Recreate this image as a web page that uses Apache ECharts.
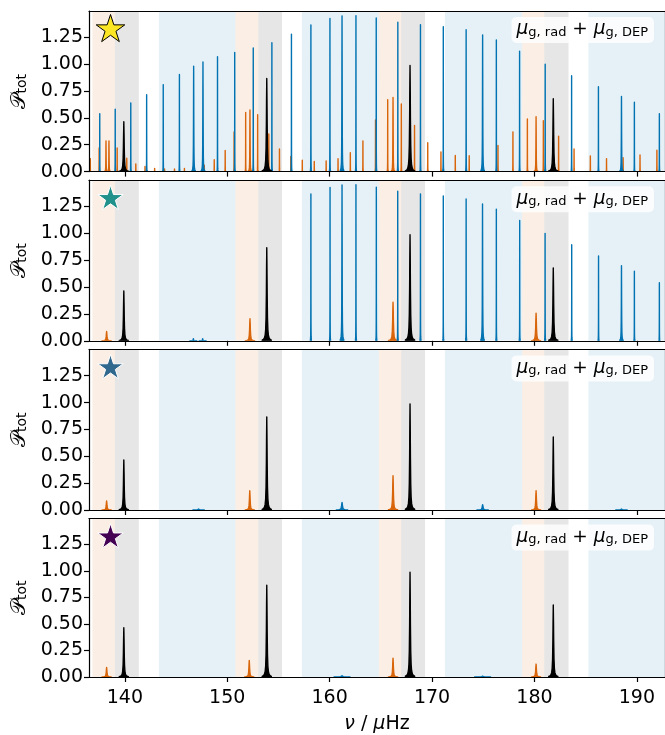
<!DOCTYPE html>
<html>
<head>
<meta charset="utf-8">
<script src="https://cdn.jsdelivr.net/npm/echarts@6/dist/echarts.min.js"></script>
<style>
  html, body { margin: 0; padding: 0; background: #ffffff; }
  #chart { width: 665px; height: 735px; }
</style>
</head>
<body>
<div id="chart"></div>
<script>
// Frequency window and axis ticks (μHz)
const freqRange = [136.5, 192.75];
const xTicks = [140, 150, 160, 170, 180, 190];
const yTicks = [0, 0.25, 0.5, 0.75, 1.0, 1.25];
const yTop = 1.495;

// Expected regions of the degree-2, radial and dipole modes
const l2Bands = [[136.83, 139.03], [150.80, 153.03], [164.80, 166.99], [178.80, 180.96]];
const l0Bands = [[139.03, 141.36], [153.03, 155.35], [166.99, 169.32], [180.96, 183.33]];
const l1Bands = [[143.33, 150.80], [157.29, 164.80], [171.26, 178.80], [185.27, 194.00]];

// Modes as [frequency, height, half width at half maximum]
const radialModes = [
  [139.90, 0.465, 0.04], [153.86, 0.867, 0.04], [167.85, 0.988, 0.04], [181.84, 0.679, 0.04]
];

// Star 1
const dipoleA = [
  [137.55, 0.54, 0.004], [139.06, 0.58, 0.004], [140.58, 0.64, 0.004], [142.13, 0.715, 0.004],
  [143.75, 0.81, 0.004], [145.33, 0.905, 0.004], [146.72, 0.98, 0.015], [147.63, 1.02, 0.015],
  [149.05, 1.07, 0.004], [150.73, 1.11, 0.004], [152.54, 1.15, 0.004], [154.36, 1.20, 0.004],
  [156.27, 1.28, 0.004], [158.17, 1.366, 0.004], [160.03, 1.425, 0.004], [161.21, 1.45, 0.015],
  [162.57, 1.452, 0.004], [164.55, 1.43, 0.004], [166.66, 1.39, 0.004], [168.87, 1.367, 0.004],
  [171.10, 1.348, 0.004], [173.33, 1.32, 0.004], [174.94, 1.273, 0.015], [176.28, 1.226, 0.004],
  [178.55, 1.12, 0.004], [181.05, 1.00, 0.004], [183.63, 0.893, 0.004], [186.25, 0.79, 0.004],
  [188.50, 0.70, 0.015], [189.76, 0.647, 0.004], [192.20, 0.54, 0.004]
];
const quadA = [
  [136.63, 0.12, 0.004], [137.49, 0.22, 0.004], [138.16, 0.286, 0.012], [138.45, 0.286, 0.012],
  [139.25, 0.22, 0.004], [140.19, 0.125, 0.004], [141.07, 0.072, 0.004], [141.97, 0.047, 0.004],
  [142.91, 0.03, 0.004], [143.88, 0.025, 0.004], [144.85, 0.025, 0.004], [145.82, 0.03, 0.004],
  [146.66, 0.035, 0.004], [147.76, 0.06, 0.004], [148.73, 0.11, 0.004], [149.80, 0.196, 0.004],
  [150.67, 0.37, 0.004], [151.80, 0.55, 0.004], [152.22, 0.573, 0.015], [152.97, 0.53, 0.004],
  [154.06, 0.35, 0.004], [155.10, 0.21, 0.004], [156.21, 0.14, 0.004], [157.33, 0.105, 0.004],
  [158.50, 0.095, 0.004], [159.66, 0.10, 0.004], [160.82, 0.12, 0.004], [162.02, 0.175, 0.004],
  [163.25, 0.286, 0.004], [164.48, 0.48, 0.004], [165.67, 0.67, 0.004], [166.19, 0.69, 0.015],
  [167.00, 0.63, 0.004], [168.29, 0.43, 0.004], [169.58, 0.268, 0.004], [170.87, 0.184, 0.004],
  [172.27, 0.15, 0.004], [173.63, 0.147, 0.004], [176.44, 0.243, 0.004], [177.90, 0.37, 0.004],
  [179.31, 0.49, 0.004], [180.16, 0.51, 0.015], [180.87, 0.473, 0.004], [182.36, 0.33, 0.004],
  [183.87, 0.21, 0.004], [185.46, 0.146, 0.004], [187.04, 0.121, 0.004], [188.66, 0.13, 0.004],
  [190.31, 0.156, 0.004], [191.96, 0.20, 0.004]
];

// Star 2
const dipoleB = [
  [146.69, 0.02, 0.03], [147.60, 0.02, 0.03],
  [158.17, 1.366, 0.004], [160.04, 1.427, 0.004], [161.21, 1.45, 0.015], [162.57, 1.452, 0.004],
  [164.56, 1.43, 0.004], [166.65, 1.392, 0.004], [168.87, 1.368, 0.004], [171.10, 1.349, 0.004],
  [173.33, 1.32, 0.004], [174.93, 1.274, 0.015], [176.28, 1.226, 0.004], [178.56, 1.12, 0.004],
  [181.04, 1.00, 0.004], [183.64, 0.894, 0.004], [186.26, 0.79, 0.004], [188.50, 0.70, 0.015],
  [189.76, 0.648, 0.004], [192.20, 0.54, 0.004]
];
const quadB = [[138.22, 0.087, 0.04], [152.22, 0.205, 0.04], [166.19, 0.36, 0.04], [180.16, 0.258, 0.04]];

// Star 3
const dipoleC = [[147.20, 0.01, 0.05], [161.21, 0.07, 0.05], [174.94, 0.05, 0.05], [188.50, 0.01, 0.05]];
const quadC = [[138.22, 0.085, 0.04], [152.20, 0.18, 0.04], [166.19, 0.32, 0.04], [180.16, 0.18, 0.04]];

// Star 4
const dipoleD = [[161.21, 0.012, 0.07], [174.94, 0.008, 0.07]];
const quadD = [[138.22, 0.09, 0.04], [152.15, 0.157, 0.04], [166.19, 0.178, 0.04], [180.16, 0.122, 0.04]];

const panels = [
  { dipole: dipoleA, quad: quadA, star: '#fde725', starEdge: '#000000', starR: 15 },
  { dipole: dipoleB, quad: quadB, star: '#21918c', starEdge: '#ffffff', starR: 13.4 },
  { dipole: dipoleC, quad: quadC, star: '#31688e', starEdge: '#ffffff', starR: 13.4 },
  { dipole: dipoleD, quad: quadD, star: '#440154', starEdge: '#ffffff', starR: 13.4 }
];

const legendText = '{m|μ}{s|g, rad}{o| + }{m|μ}{s|g, DEP}';

// ---- styling / layout ----
const FONT = 'DejaVu Sans';
const COL_L0 = '#000000';
const COL_L1 = '#0173b2';
const COL_L2 = '#d9650b';
const BAND_L0 = 'rgba(128,128,128,0.20)';
const BAND_L1 = 'rgba(1,115,178,0.10)';
const BAND_L2 = 'rgba(222,120,40,0.12)';

const gridLeft = 89, gridWidth = 580, gridHeight = 160.6;
const gridTops = [11, 180.2, 349.4, 518.6];

// Lorentzian outline of one peak, traced from the base up to the apex
const fractions = [0.008, 0.015, 0.03, 0.06, 0.12, 0.25, 0.5, 0.75, 1];
function peakRenderer(color) {
  return function (params, api) {
    const f = api.value(0), h = api.value(1), w = api.value(2);
    const left = [], right = [];
    const d0 = w * Math.sqrt(1 / fractions[0] - 1);
    left.push(api.coord([f - d0, 0]));
    for (const fr of fractions) {
      const d = w * Math.sqrt(1 / fr - 1);
      left.push(api.coord([f - d, h * fr]));
      right.unshift(api.coord([f + d, h * fr]));
    }
    right.push(api.coord([f + d0, 0]));
    return {
      type: 'polygon',
      shape: { points: left.concat(right) },
      style: { fill: color, stroke: color, lineWidth: 1.4, lineJoin: 'round' }
    };
  };
}

function bandRenderer(color) {
  return function (params, api) {
    const cs = params.coordSys;
    const x0 = api.coord([api.value(0), 0])[0];
    const x1 = api.coord([api.value(1), 0])[0];
    return {
      type: 'rect',
      shape: { x: x0, y: cs.y, width: x1 - x0, height: cs.height },
      style: { fill: color }
    };
  };
}

function starPoints(cx, cy, R) {
  const r = R * 0.381966;
  const pts = [];
  for (let k = 0; k < 10; k++) {
    const a = -Math.PI / 2 + k * Math.PI / 5;
    const rr = k % 2 === 0 ? R : r;
    pts.push([cx + rr * Math.cos(a), cy + rr * Math.sin(a)]);
  }
  return pts;
}

const textBase = { fontFamily: FONT, fontWeight: 'normal', color: '#000' };
const grid = [], xAxis = [], yAxis = [], series = [], title = [], graphic = [];
panels.forEach((p, i) => {
  const last = i === panels.length - 1;
  grid.push({ left: gridLeft, top: gridTops[i], width: gridWidth, height: gridHeight, containLabel: false });
  // bottom axis
  xAxis.push({
    type: 'value', gridIndex: i, min: freqRange[0], max: freqRange[1], z: 10,
    axisLine: { show: true, onZero: false, lineStyle: { color: '#000', width: 1.2 } },
    axisTick: { show: true, length: 5, customValues: xTicks, lineStyle: { color: '#000', width: 1.2 } },
    axisLabel: Object.assign({ show: last, customValues: xTicks, fontSize: 19, margin: 12 }, textBase),
    splitLine: { show: false },
    name: last ? '{i|ν} / {i|μ}Hz' : '',
    nameLocation: 'middle', nameGap: 38,
    nameTextStyle: Object.assign({ fontSize: 19, rich: { i: Object.assign({ fontStyle: 'italic', fontSize: 19 }, textBase) } }, textBase)
  });
  // top frame
  xAxis.push({
    type: 'value', gridIndex: i, position: 'top', min: freqRange[0], max: freqRange[1], z: 10,
    axisLine: { show: true, onZero: false, lineStyle: { color: '#000', width: 1.2 } },
    axisTick: { show: false }, axisLabel: { show: false }, splitLine: { show: false }
  });
  yAxis.push({
    type: 'value', gridIndex: i, min: 0, max: yTop, z: 10,
    axisLine: { show: true, onZero: false, lineStyle: { color: '#000', width: 1.2 } },
    axisTick: { show: true, length: 5, customValues: yTicks, lineStyle: { color: '#000', width: 1.2 } },
    axisLabel: Object.assign({ show: true, customValues: yTicks, fontSize: 19, margin: 6,
      formatter: v => v.toFixed(2) }, textBase),
    splitLine: { show: false },
    name: '{p|𝒫}{s|tot}', nameLocation: 'middle', nameGap: 59, nameRotate: 90,
    nameTextStyle: { rich: {
      p: Object.assign({ fontSize: 21, verticalAlign: 'bottom', lineHeight: 24 }, textBase),
      s: Object.assign({ fontSize: 14, verticalAlign: 'bottom', lineHeight: 15 }, textBase)
    } }
  });
  yAxis.push({
    type: 'value', gridIndex: i, position: 'right', min: 0, max: yTop, z: 10,
    axisLine: { show: true, onZero: false, lineStyle: { color: '#000', width: 1.2 } },
    axisTick: { show: false }, axisLabel: { show: false }, splitLine: { show: false }
  });

  const xi = 2 * i, yi = 2 * i;
  const bandSets = [[l2Bands, BAND_L2], [l0Bands, BAND_L0], [l1Bands, BAND_L1]];
  bandSets.forEach(([bands, col]) => {
    series.push({ type: 'custom', xAxisIndex: xi, yAxisIndex: yi, z: 1, clip: true, silent: true,
      renderItem: bandRenderer(col), data: bands });
  });
  series.push({ type: 'custom', xAxisIndex: xi, yAxisIndex: yi, z: 2, clip: true, silent: true,
    renderItem: peakRenderer(COL_L2), data: p.quad });
  series.push({ type: 'custom', xAxisIndex: xi, yAxisIndex: yi, z: 3, clip: true, silent: true,
    renderItem: peakRenderer(COL_L1), data: p.dipole });
  series.push({ type: 'custom', xAxisIndex: xi, yAxisIndex: yi, z: 4, clip: true, silent: true,
    renderItem: peakRenderer(COL_L0), data: radialModes });

  title.push({
    text: legendText, right: 11, top: gridTops[i] + 3,
    backgroundColor: 'rgba(255,255,255,0.8)', borderRadius: 5, padding: [3, 6, 4, 5],
    textStyle: Object.assign({ fontSize: 18.5, rich: {
      m: Object.assign({ fontStyle: 'italic', fontSize: 18.5, lineHeight: 22, verticalAlign: 'bottom' }, textBase),
      s: Object.assign({ fontSize: 13, lineHeight: 14, verticalAlign: 'bottom' }, textBase),
      o: Object.assign({ fontSize: 18.5, lineHeight: 22, verticalAlign: 'bottom' }, textBase)
    } }, textBase)
  });

  graphic.push({
    type: 'polygon', z: 100,
    shape: { points: starPoints(110.5, gridTops[i] + 18.5, p.starR) },
    style: { fill: p.star, stroke: p.starEdge, lineWidth: 1 }
  });
});

const chart = echarts.init(document.getElementById('chart'), null, { renderer: 'canvas' });
chart.setOption({ animation: false, grid, xAxis, yAxis, series, title, graphic });
</script>
</body>
</html>
